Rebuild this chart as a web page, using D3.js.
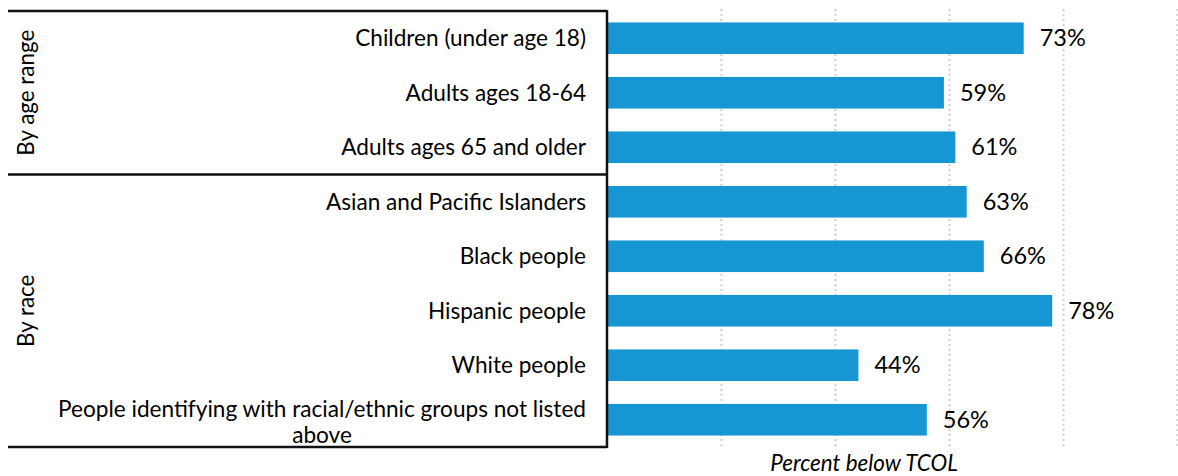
<!DOCTYPE html>
<html>
<head>
<meta charset="utf-8">
<script src="https://cdn.jsdelivr.net/npm/d3@7"></script>
<style>
  body { margin: 0; background: #fff; }
  text { font-family: Lato, "Open Sans", sans-serif; fill: #000; }
</style>
</head>
<body>
<div id="chart"></div>
<script>
// Data
var categories = [
    "Children (under age 18)",
    "Adults ages 18-64",
    "Adults ages 65 and older",
    "Asian and Pacific Islanders",
    "Black people",
    "Hispanic people",
    "White people",
    "People identifying with racial/ethnic groups not listed above"
];
var values = [73, 59, 61, 63, 66, 78, 44, 56];
var groupNames = ["By age range", "By race"];
var groupSizes = [3, 5];
var xTicks = [20, 40, 60, 80, 100];

var svgWidth = 1178;
var svgHeight = 476;

var svg = d3.select("#chart")
    .append("svg")
    .attr("width", svgWidth)
    .attr("height", svgHeight);

// Scales
var xScale = d3.scaleLinear()
    .domain([0, 100])
    .range([607.6, 1177.6]);

var yScale = d3.scaleBand()
    .domain(categories)
    .range([11, 447])
    .paddingInner(0.42)
    .paddingOuter(0.21);

// Dotted gridlines
svg.append("g")
    .selectAll("line")
    .data(xTicks)
    .enter()
    .append("line")
    .attr("x1", d => Math.round(xScale(d)) - 0.5)
    .attr("x2", d => Math.round(xScale(d)) - 0.5)
    .attr("y1", 9)
    .attr("y2", 447)
    .attr("stroke", "#cfcfcf")
    .attr("stroke-width", 2)
    .attr("stroke-dasharray", "2,3");

// Bars
svg.append("g")
    .selectAll("rect")
    .data(values)
    .enter()
    .append("rect")
    .attr("x", xScale(0))
    .attr("y", (d, i) => yScale(categories[i]))
    .attr("width", d => xScale(d) - xScale(0))
    .attr("height", yScale.bandwidth())
    .attr("fill", "#1696d2");

// Value labels
svg.append("g")
    .selectAll("text")
    .data(values)
    .enter()
    .append("text")
    .attr("x", d => xScale(d) + 16)
    .attr("y", (d, i) => yScale(categories[i]) + yScale.bandwidth() / 2)
    .attr("dy", "0.35em")
    .attr("font-size", "23.5px")
    .text(d => d + "%");

// Category labels, long ones wrapped in two centred lines
var labelRight = 586;
categories.forEach(function(c, i) {
    var cy = yScale(c) + yScale.bandwidth() / 2;
    if (c.length > 40) {
        var first = "People identifying with racial/ethnic groups not listed";
        var t1 = svg.append("text")
            .attr("x", labelRight)
            .attr("y", cy - 11)
            .attr("dy", "0.35em")
            .attr("font-size", "22.6px")
            .style("text-anchor", "end")
            .text(first);
        var w = t1.node().getComputedTextLength();
        svg.append("text")
            .attr("x", labelRight - w / 2)
            .attr("y", cy + 15)
            .attr("dy", "0.35em")
            .attr("font-size", "22.6px")
            .style("text-anchor", "middle")
            .text("above");
    } else {
        svg.append("text")
            .attr("x", labelRight)
            .attr("y", cy)
            .attr("dy", "0.35em")
            .attr("font-size", "22.6px")
            .style("text-anchor", "end")
            .text(c);
    }
});

// Group box lines and rotated group names
var boxLeft = 8, boxRight = 607;
var start = 0;
groupSizes.forEach(function(n, g) {
    var top = start === 0 ? 11 : yScale(categories[start]) - yScale.step() * yScale.paddingInner() / 2;
    var last = categories[start + n - 1];
    var bottom = start + n === categories.length ? 447 : yScale(last) + yScale.bandwidth() + yScale.step() * yScale.paddingInner() / 2;
    svg.append("line")
        .attr("x1", boxLeft).attr("x2", boxRight)
        .attr("y1", top).attr("y2", top)
        .attr("stroke", "#111").attr("stroke-width", 2.5);
    svg.append("text")
        .attr("transform", `translate(26, ${(top + bottom) / 2}) rotate(-90)`)
        .attr("dy", "0.35em")
        .attr("font-size", "22.4px")
        .style("text-anchor", "middle")
        .text(groupNames[g]);
    start += n;
});
svg.append("line")
    .attr("x1", boxLeft).attr("x2", boxRight)
    .attr("y1", 447).attr("y2", 447)
    .attr("stroke", "#111").attr("stroke-width", 2.5);
svg.append("line")
    .attr("x1", boxRight).attr("x2", boxRight)
    .attr("y1", 10).attr("y2", 448)
    .attr("stroke", "#111").attr("stroke-width", 2.5);

// Axis title
svg.append("text")
    .attr("x", 864)
    .attr("y", 471)
    .attr("font-size", "22.4px")
    .attr("font-style", "italic")
    .style("text-anchor", "middle")
    .text("Percent below TCOL");
</script>
</body>
</html>
